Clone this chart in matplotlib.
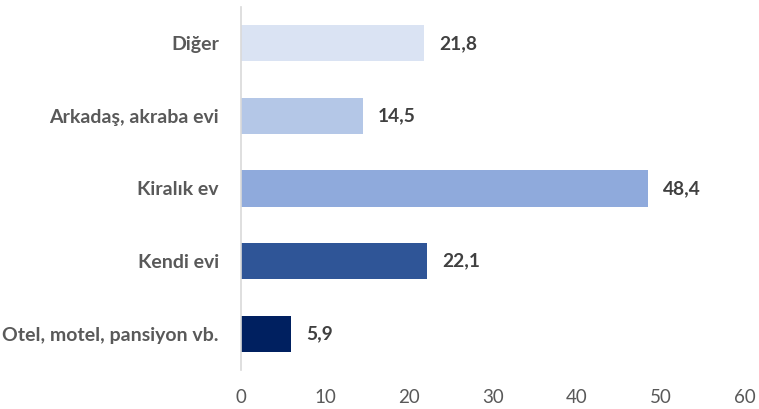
import matplotlib.pyplot as plt

categories = ['Otel, motel, pansiyon vb.', 'Kendi evi', 'Kiralık ev', 'Arkadaş, akraba evi', 'Diğer']
values = [5.9, 22.1, 48.4, 14.5, 21.8]
colors = ['#002060', '#2F5597', '#8FAADC', '#B4C7E7', '#DAE3F3']
xticks = [0, 10, 20, 30, 40, 50, 60]

plt.rcParams['font.family'] = ['Lato', 'DejaVu Sans']

fig = plt.figure(figsize=(7.59, 4.09), dpi=100)
ax = fig.add_axes([0.3175, 0.0954, 0.6641, 0.8876])

ypos = range(len(categories))
ax.barh(ypos, values, height=0.5, color=colors)
for y, v in zip(ypos, values):
    ax.annotate(f'{v:.1f}'.replace('.', ','), (v, y), xytext=(11, 0),
                textcoords='offset points', va='center', ha='left',
                fontsize=13.8, fontweight='bold', color='#404040')

ax.set_xlim(0, 60)
ax.set_ylim(-0.5, 4.5)
ax.set_xticks(xticks)
ax.set_yticks(list(ypos))
ax.set_yticklabels(categories, fontsize=14, fontweight='bold', color='#595959')
ax.tick_params(axis='y', length=0, pad=16)
ax.tick_params(axis='x', length=0, pad=14, labelsize=13.5, labelcolor='#595959')
for s in ['top', 'right', 'bottom']:
    ax.spines[s].set_visible(False)
ax.spines['left'].set_color('#D9D9D9')
ax.spines['left'].set_linewidth(1.2)

fig.savefig('out.png', dpi=100)
